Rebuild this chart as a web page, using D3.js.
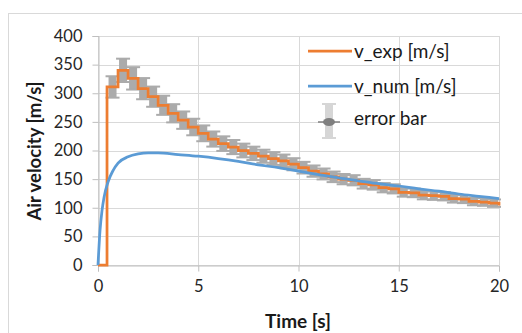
<!DOCTYPE html>
<html>
<head>
<meta charset="utf-8">
<script src="https://cdn.jsdelivr.net/npm/d3@7"></script>
<style>
  html, body { margin: 0; padding: 0; background: #fff; }
  svg { display: block; font-family: Lato, "Open Sans", sans-serif; }
</style>
</head>
<body>
<svg id="chart" width="522" height="333"></svg>
<script>
// experimental velocity, step values (start time of each step)
var expTime = [0, 0.45, 1, 1.5, 2, 2.5, 3, 3.5, 4, 4.5, 5, 5.5, 6, 6.5, 7, 7.5, 8, 8.5, 9, 9.5,
  10, 10.5, 11, 11.5, 12, 12.5, 13, 13.5, 14, 14.5, 15, 15.5, 16, 16.5, 17, 17.5, 18, 18.5, 19, 19.5, 20];
var expVal = [0, 311, 340, 326, 308, 294, 279, 265, 253, 241, 230, 220, 212, 206, 200, 195, 190, 186, 182, 176,
  170, 164, 159, 154, 150, 148, 142, 140, 135, 133, 127, 126, 122, 121, 120, 116, 115, 111, 110, 108, 104];
var errPct = 0.06;

// numerical velocity
var numTime = [0, 0.1, 0.2, 0.3, 0.5, 0.75, 1, 1.5, 2, 2.5, 3, 4, 5, 6, 7, 8, 9, 10,
  11, 12, 13, 14, 15, 16, 17, 18, 19, 20];
var numVal = [0, 60, 95, 118, 145, 165, 178, 189, 194, 196, 196, 193, 190, 186, 181, 175, 170, 164,
  158, 152, 147, 142, 138, 133, 129, 124, 120, 116];

var xTicks = [0, 5, 10, 15, 20];
var yTicks = [0, 50, 100, 150, 200, 250, 300, 350, 400];
var legendNames = ["v_exp [m/s]", "v_num [m/s]", "error bar"];

var svg = d3.select("#chart");

// chart frame
svg.append("rect").attr("x", 8.5).attr("y", 13.5).attr("width", 540).attr("height", 340)
  .attr("fill", "#fff").attr("stroke", "#d9d9d9");

var x = d3.scaleLinear().domain([0, 20]).range([98, 499]);
var y = d3.scaleLinear().domain([0, 400]).range([265, 36]);

// gridlines
svg.append("g").selectAll("line").data(yTicks).join("line")
  .attr("x1", x(0)).attr("x2", x(20))
  .attr("y1", d => Math.round(y(d)) + 0.5).attr("y2", d => Math.round(y(d)) + 0.5)
  .attr("stroke", "#d9d9d9");
svg.append("g").selectAll("line").data(xTicks).join("line")
  .attr("y1", y(0)).attr("y2", y(400))
  .attr("x1", d => Math.round(x(d)) + 0.5).attr("x2", d => Math.round(x(d)) + 0.5)
  .attr("stroke", "#d9d9d9");

// axes
var yAxis = svg.append("g").attr("transform", "translate(" + (Math.round(x(0)) + 0.5) + ",0)")
  .call(d3.axisLeft(y).tickValues(yTicks).tickSize(6).tickPadding(10));
var xAxis = svg.append("g").attr("transform", "translate(0," + (Math.round(y(0)) + 0.5) + ")")
  .call(d3.axisBottom(x).tickValues(xTicks).tickSize(6).tickPadding(9));
[xAxis, yAxis].forEach(function(a) {
  a.select(".domain").attr("stroke", "#bfbfbf");
  a.selectAll(".tick line").attr("stroke", "#bfbfbf");
  a.selectAll("text").attr("fill", "#262626").style("font-size", "16.5px").style("font-family", "Lato, sans-serif");
});

// error bars
var errG = svg.append("g");
var pts = expTime.slice(1, -1).map((t, i) => ({ t: t, v: expVal[i + 1], n: expTime[i + 2] }));
pts.forEach(function(p) {
  var cx = (x(p.t) + x(p.n)) / 2;
  var e = p.v * errPct;
  errG.append("rect").attr("x", cx - 4).attr("width", 8)
    .attr("y", y(p.v + e)).attr("height", y(p.v - e) - y(p.v + e))
    .attr("fill", "#ababab");
  [p.v + e, p.v - e].forEach(function(c) {
    errG.append("line").attr("x1", cx - 7).attr("x2", cx + 7)
      .attr("y1", y(c)).attr("y2", y(c))
      .attr("stroke", "#ababab").attr("stroke-width", 2);
  });
});

// series
var expLine = d3.line().x((d, i) => x(expTime[i])).y(d => y(d)).curve(d3.curveStepAfter);
svg.append("path").attr("d", expLine(expVal))
  .attr("fill", "none").attr("stroke", "#ed7d31").attr("stroke-width", 2.75);

var numLine = d3.line().x((d, i) => x(numTime[i])).y(d => y(d)).curve(d3.curveMonotoneX);
svg.append("path").attr("d", numLine(numVal))
  .attr("fill", "none").attr("stroke", "#5b9bd5").attr("stroke-width", 2.75);

// axis titles
svg.append("text").attr("x", 298).attr("y", 328).attr("text-anchor", "middle")
  .style("font-size", "19px").style("font-weight", "bold").attr("fill", "#1a1a1a").text("Time [s]");
svg.append("text").attr("transform", "translate(41,151) rotate(-90)").attr("text-anchor", "middle")
  .style("font-size", "18.5px").style("font-weight", "bold").attr("fill", "#1a1a1a").text("Air velocity [m/s]");

// legend
var leg = svg.append("g");
var rowY = [51, 86, 118];
leg.append("line").attr("x1", 308).attr("x2", 352).attr("y1", rowY[0]).attr("y2", rowY[0])
  .attr("stroke", "#ed7d31").attr("stroke-width", 2.75);
leg.append("line").attr("x1", 308).attr("x2", 352).attr("y1", rowY[1]).attr("y2", rowY[1])
  .attr("stroke", "#5b9bd5").attr("stroke-width", 2.75);
leg.append("rect").attr("x", 325).attr("y", 104).attr("width", 8).attr("height", 34).attr("fill", "#d6d6d6");
leg.append("line").attr("x1", 322).attr("x2", 336).attr("y1", 104).attr("y2", 104).attr("stroke", "#d6d6d6").attr("stroke-width", 2);
leg.append("line").attr("x1", 322).attr("x2", 336).attr("y1", 138).attr("y2", 138).attr("stroke", "#d6d6d6").attr("stroke-width", 2);
leg.append("line").attr("x1", 318).attr("x2", 340).attr("y1", 122).attr("y2", 122).attr("stroke", "#7f7f7f").attr("stroke-width", 1.5);
leg.append("ellipse").attr("cx", 329).attr("cy", 122).attr("rx", 6).attr("ry", 4).attr("fill", "#7f7f7f");
leg.selectAll("text").data(legendNames).join("text")
  .attr("x", 354).attr("y", (d, i) => rowY[i] + 7)
  .style("font-size", "19px").attr("fill", "#1a1a1a").text(d => d);
</script>
</body>
</html>
